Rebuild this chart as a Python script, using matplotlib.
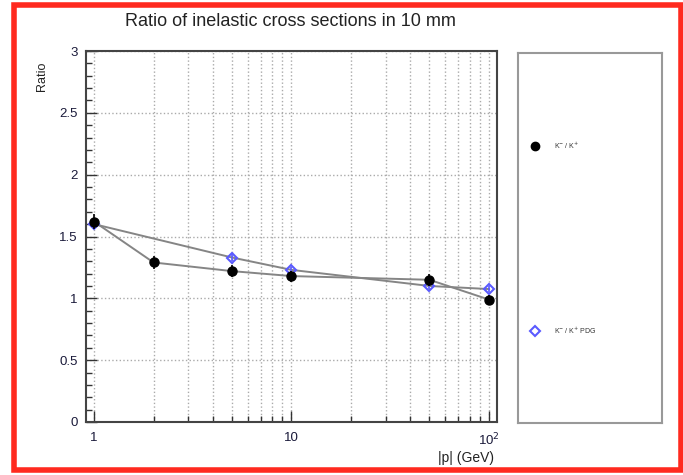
import numpy as np
import matplotlib.pyplot as plt
from matplotlib.patches import Rectangle
from matplotlib.ticker import FixedLocator, NullFormatter

plt.rcParams['font.family'] = ['Liberation Sans', 'DejaVu Sans']

# data
p_meas = [1, 2, 5, 10, 50, 100]
ratio_meas = [1.62, 1.29, 1.22, 1.18, 1.15, 0.99]
err_meas = [0.06, 0.05, 0.05, 0.045, 0.05, 0.04]

p_pdg = [1, 5, 10, 50, 100]
ratio_pdg = [1.60, 1.33, 1.23, 1.10, 1.075]
err_pdg = [0.035, 0.03, 0.025, 0.025, 0.025]

xtick_vals = [1, 10, 100]
xtick_labels = ['1', '10', r'10$^{2}$']
ytick_vals = [0, 0.5, 1, 1.5, 2, 2.5, 3]
ytick_labels = ['0', '0.5', '1', '1.5', '2', '2.5', '3']
legend_labels = [r'K$^{-}$ / K$^{+}$', r'K$^{-}$ / K$^{+}$ PDG']

fig = plt.figure(figsize=(6.83, 4.75), dpi=100)
ax = fig.add_axes([0.126, 0.1116, 0.6017, 0.781])

# gray connecting lines, then markers with error bars
ax.plot(p_meas, ratio_meas, color='#858585', lw=1.4, zorder=2)
ax.plot(p_pdg, ratio_pdg, color='#858585', lw=1.4, zorder=2)
ax.errorbar(p_meas, ratio_meas, yerr=err_meas, fmt='o', color='black',
            ms=6.5, elinewidth=1.2, capsize=0, zorder=4)
ax.errorbar(p_pdg, ratio_pdg, yerr=err_pdg, fmt='D', color='#5a5aff',
            mfc='none', mec='#5a5aff', mew=1.5, ms=5.5, elinewidth=1.2,
            capsize=0, zorder=3)

ax.set_xscale('log')
ax.set_xlim(0.91, 110)
ax.set_ylim(0, 3)

ax.xaxis.set_major_locator(FixedLocator(xtick_vals))
ax.set_xticklabels(xtick_labels)
minors = [m * d for d in [1, 10, 100] for m in range(2, 10) if m * d < 110]
ax.xaxis.set_minor_locator(FixedLocator(minors))
ax.xaxis.set_minor_formatter(NullFormatter())
ax.yaxis.set_major_locator(FixedLocator(ytick_vals))
ax.set_yticklabels(ytick_labels)
ax.yaxis.set_minor_locator(FixedLocator([i / 10 for i in range(31)]))

ax.tick_params(which='major', direction='in', length=8, width=1, labelsize=9.5,
               pad=6, colors='#333333', labelcolor='#1a1a3a')
ax.tick_params(which='minor', direction='in', length=4, width=1, colors='#333333')
ax.tick_params(axis='x', which='major', pad=7)

ax.grid(True, which='major', axis='both', ls=':', color='#aaaaaa', lw=1)
ax.grid(True, which='minor', axis='x', ls=':', color='#aaaaaa', lw=1)
for s in ax.spines.values():
    s.set_color('#444444')
    s.set_linewidth(1.5)

fig.text(0.425, 0.955, 'Ratio of inelastic cross sections in 10 mm',
         ha='center', va='center', fontsize=13, color='#222222')
fig.text(0.062, 0.87, 'Ratio', rotation=90, ha='center', va='top',
         fontsize=9, color='#222222')
fig.text(0.724, 0.035, '|p| (GeV)', ha='right', va='center',
         fontsize=10, color='#222222')

# legend box drawn as its own panel
lax = fig.add_axes([0.758, 0.1095, 0.211, 0.7785])
lax.set_xlim(0, 1)
lax.set_ylim(0, 1)
lax.set_xticks([])
lax.set_yticks([])
for s in lax.spines.values():
    s.set_color('#999999')
    s.set_linewidth(1.5)
lax.plot([0.12], [0.75], 'o', color='black', ms=6)
lax.plot([0.12], [0.25], 'D', mfc='none', mec='#5a5aff', mew=1.5, ms=5)
lax.text(0.25, 0.75, legend_labels[0], va='center', fontsize=5, color='#333333')
lax.text(0.25, 0.25, legend_labels[1], va='center', fontsize=5, color='#333333')

# red outer frame
fig.patches.append(Rectangle((13.5 / 683, 5 / 475), 667 / 683, 465 / 475,
                             transform=fig.transFigure, fill=False,
                             edgecolor='#ff2a1f', lw=4))

fig.savefig('out.png', dpi=100)
